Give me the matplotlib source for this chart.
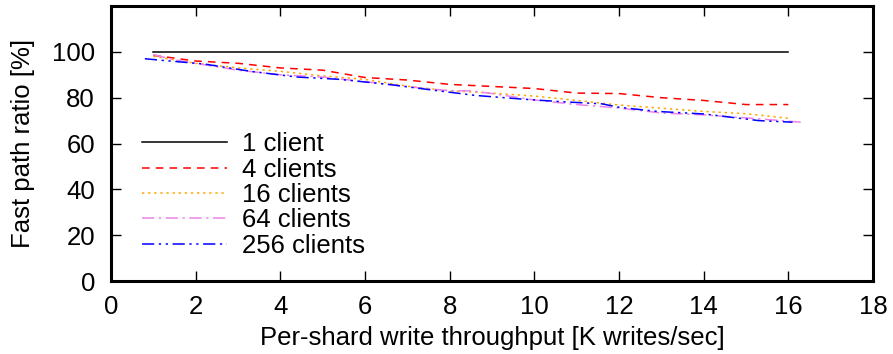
import matplotlib
matplotlib.use("Agg")
from matplotlib import pyplot as plt

plt.rcParams["font.family"] = ["Liberation Sans", "DejaVu Sans"]
plt.rcParams["font.size"] = 18.5

# per-shard write throughput (K writes/sec) vs fast path ratio (%)
x_1 = [1, 16]
y_1 = [100, 100]

x_4 = [1, 2, 3, 4, 5, 6, 7, 8, 9, 10, 11, 12, 13, 14, 15, 16]
y_4 = [98.5, 96, 95, 93, 92, 88.8, 87.7, 85.8, 84.9, 84, 82, 81.8, 80, 78.8, 77, 77]

x_16 = [1, 2, 3, 4, 5, 6, 7, 8, 9, 10, 11, 12, 13, 14, 15, 16]
y_16 = [98, 95, 93, 91.5, 89.5, 88, 85, 83, 82, 80.7, 78.8, 76.8, 75.4, 74, 73, 71]

x_64 = [1, 1.5, 2, 3, 4, 5, 6, 7, 8, 8.5, 9, 10, 11, 12, 13, 14, 15, 16.3]
y_64 = [98.8, 96.5, 95, 92, 90, 89, 87, 84.8, 83, 83, 81.8, 79, 77, 75.5, 73.3, 72.5, 71.2, 69.3]

x_256 = [0.8, 1.2, 2.2, 3.3, 4.4, 5.4, 6.6, 7.6, 8.6, 9.7, 10.6, 11.6, 12.0, 12.9, 14.0, 15.3, 16.1]
y_256 = [97, 96.3, 94.7, 91.5, 89, 88, 85.7, 83.3, 81, 79.4, 78.3, 77.3, 75.8, 74, 72.9, 70, 69.3]

fig = plt.figure(figsize=(8.93, 3.54), dpi=100)
ax = fig.add_axes([0.1243, 0.2062, 0.8533, 0.7768])

lw = 1.1
ax.plot(x_1, y_1, color="black", lw=lw, label="1 client")
ax.plot(x_4, y_4, color="red", lw=lw, dashes=(5, 4), label="4 clients")
ax.plot(x_16, y_16, color="orange", lw=lw, dashes=(1.5, 2.5), label="16 clients")
ax.plot(x_64, y_64, color="violet", lw=lw, dashes=(8, 3, 1.5, 3), label="64 clients")
ax.plot(x_256, y_256, color="blue", lw=lw, dashes=(8, 3, 1.5, 3, 1.5, 3), label="256 clients")

ax.set_xlim(0, 18)
ax.set_ylim(0, 120)
ax.set_xticks(range(0, 19, 2))
ax.set_yticks(range(0, 101, 20))
ax.tick_params(direction="in", length=7, width=1, top=True, right=True)
ax.tick_params(axis="x", pad=10)
ax.tick_params(axis="y", pad=11.5)
for s in ax.spines.values():
    s.set_linewidth(2.2)

ax.set_xlabel("Per-shard write throughput [K writes/sec]", labelpad=5)
ax.set_ylabel("Fast path ratio [%]", labelpad=12)

ax.legend(loc="lower left", bbox_to_anchor=(0.041, 0.085), frameon=False,
          handlelength=3.3, handletextpad=0.6, labelspacing=0.05,
          borderaxespad=0, borderpad=0)

fig.savefig("out.png", dpi=100)
